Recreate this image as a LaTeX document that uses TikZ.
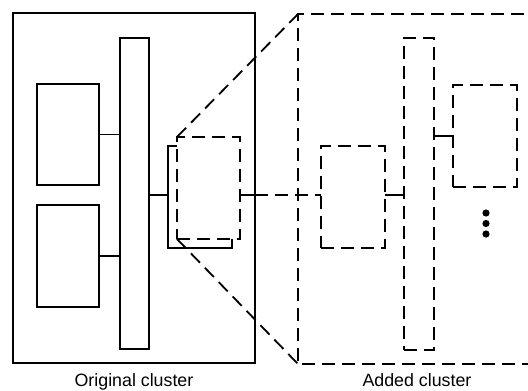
\documentclass[tikz,border=0pt]{standalone}
\usepackage{fontspec}
\setmainfont{Liberation Sans}
\begin{document}
\begin{tikzpicture}[x=1pt,y=-1pt,
  every node/.style={inner sep=0pt,outer sep=0pt},
  solidbox/.style={draw,line width=1.8pt,fill=white},
  dashbox/.style={draw,line width=1.8pt,fill=white,dash pattern=on 13pt off 7pt},
  conn/.style={line width=1.8pt},
  dconn/.style={line width=1.8pt,dash pattern=on 13pt off 7pt},
  lbl/.style={anchor=base,font=\fontsize{17.8}{20}\selectfont}]
\useasboundingbox (0,0) rectangle (528,391);
% original cluster
\node[solidbox,minimum width=242pt,minimum height=350pt] (orig) at (134,188) {};
\node[solidbox,minimum width=29pt,minimum height=311pt] (bus1) at (134.5,193.5) {};
\node[solidbox,minimum width=62pt,minimum height=101pt] (b1) at (68,134.5) {};
\node[solidbox,minimum width=62pt,minimum height=102pt] (b2) at (68,256) {};
\node[solidbox,minimum width=64pt,minimum height=102pt] (back) at (200,197) {};
\node[dashbox,minimum width=63pt,minimum height=102pt] (front) at (208.5,188) {};
\draw[conn] (b1.east) -- (b1.east -| bus1.west);
\draw[conn] (b2.east) -- (b2.east -| bus1.west);
\coordinate (r1) at (bus1.east |- 0,195);
\draw[conn] (r1) -- (r1 -| back.west);
% added cluster
\coordinate (atl) at (298,14);
\coordinate (abl) at (298,364);
\coordinate (atr) at (524,14);
\coordinate (abr) at (528,364);
\draw[dconn] (atr) -- (atl) -- (abl) -- (abr);
\draw[dconn] (front.north west) -- (atl);
\draw[dconn] (front.south west) -- (abl);
\node[dashbox,minimum width=64pt,minimum height=102pt] (a1) at (353,197) {};
\node[dashbox,minimum width=30pt,minimum height=312pt] (bus2) at (419,194) {};
\node[dashbox,minimum width=64pt,minimum height=102pt] (a2) at (485,136) {};
\coordinate (r2) at (front.east |- 0,195);
\coordinate (r3) at (orig.east |- 0,195);
\draw[conn] (r2) -- (r3);
\draw[dconn] (r3) -- (r3 -| a1.west);
\coordinate (r4) at (a1.east |- 0,195);
\draw[conn] (r4) -- (r4 -| bus2.west);
\coordinate (r5) at (bus2.east |- 0,136);
\draw[conn] (r5) -- (r5 -| a2.west);
\fill (486,213) circle (3.6pt) (486,223.5) circle (3.6pt) (486,234) circle (3.6pt);
\node[lbl] (l1) at (134,386) {Original cluster};
\node[lbl] (l2) at (417,386) {Added cluster};
\end{tikzpicture}
\end{document}
